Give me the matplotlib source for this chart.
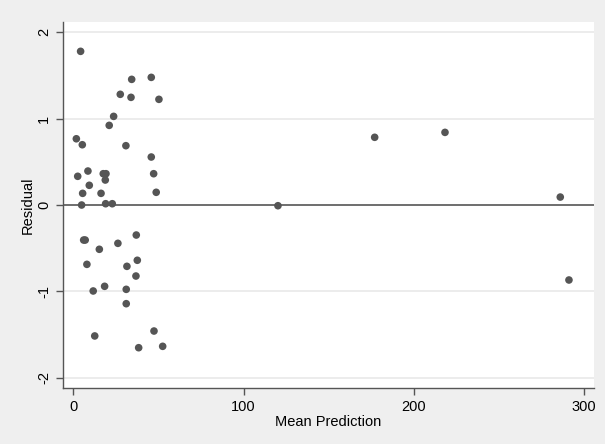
import matplotlib.pyplot as plt
import numpy as np

plt.rcParams["font.family"] = ["Liberation Sans", "DejaVu Sans"]

# mean prediction vs residual
mean_pred = np.array([
    4.3, 34.3, 45.8, 27.6, 33.9, 50.3, 23.7, 21.1, 1.8, 5.3,
    30.9, 45.8, 2.6, 8.6, 17.6, 19.2, 18.8, 47.2, 9.4, 5.5,
    16.3, 48.7, 4.9, 19.0, 22.9, 6.1, 7.0, 37.0, 26.2, 15.3,
    8.0, 37.6, 31.5, 36.8, 11.7, 18.4, 31.1, 31.1, 12.6, 47.4,
    38.4, 52.5, 120.2, 177.0, 218.3, 286.0, 291.1,
])
residual = np.array([
    1.777, 1.453, 1.476, 1.280, 1.245, 1.222, 1.025, 0.921, 0.766, 0.697,
    0.686, 0.555, 0.332, 0.393, 0.362, 0.362, 0.289, 0.362, 0.228, 0.135,
    0.135, 0.147, 0.0, 0.015, 0.015, -0.405, -0.405, -0.347, -0.443, -0.512,
    -0.686, -0.639, -0.709, -0.821, -0.994, -0.940, -0.975, -1.141, -1.514, -1.457,
    -1.650, -1.634, -0.008, 0.783, 0.840, 0.092, -0.867,
])

xticks = [0, 100, 200, 300]
yticks = [-2, -1, 0, 1, 2]

fig = plt.figure(figsize=(6.05, 4.44), dpi=100, facecolor="#efefef")
ax = fig.add_axes([0.1041, 0.1261, 0.8777, 0.8243])
ax.set_facecolor("white")

for y in yticks:
    if y != 0:
        ax.axhline(y, color="#eaeaea", lw=1.3, zorder=0)
ax.axhline(0, color="#555555", lw=1.2, zorder=1)

ax.scatter(mean_pred, residual, s=30, color="#555555", edgecolors="none", zorder=3)

ax.set_xlim(-6.05, 305.8)
ax.set_ylim(-2.116, 2.116)
ax.set_xticks(xticks)
ax.set_yticks(yticks)
ax.set_yticklabels([str(t) for t in yticks], rotation=90, va="center")

for s in ["top", "right"]:
    ax.spines[s].set_visible(False)
for s in ["left", "bottom"]:
    ax.spines[s].set_color("#555555")
    ax.spines[s].set_linewidth(1.0)
ax.tick_params(colors="#555555", labelcolor="black", length=5, width=1.0,
               labelsize=10.5)

ax.set_xlabel("Mean Prediction", fontsize=10.5, labelpad=1)
ax.set_ylabel("Residual", fontsize=10.5, labelpad=2)

fig.savefig("out.png", dpi=100, facecolor=fig.get_facecolor())
